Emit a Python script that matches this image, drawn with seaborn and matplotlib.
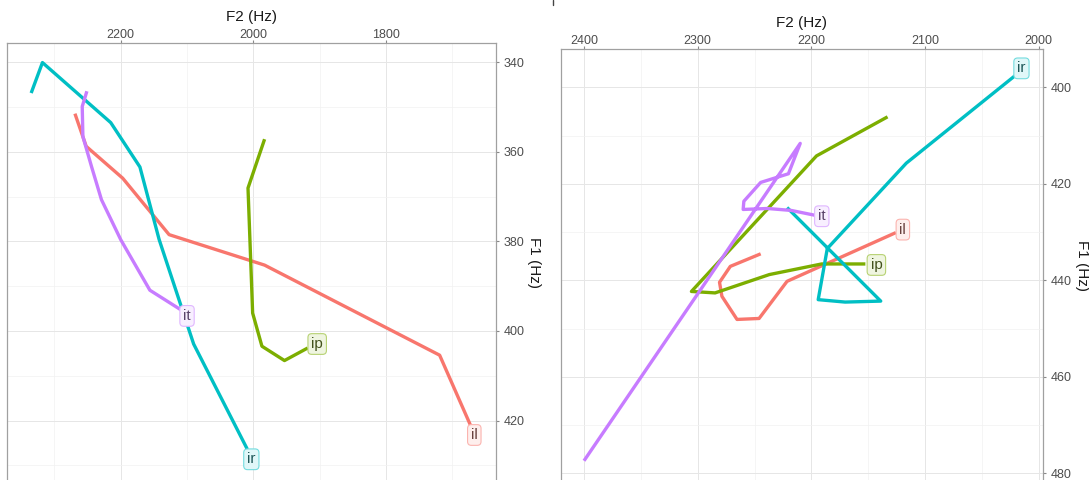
import matplotlib
matplotlib.use("Agg")
import matplotlib.pyplot as plt
from matplotlib.lines import Line2D
from matplotlib.colors import to_rgb
import numpy as np
import pandas as pd
import seaborn as sns

# ---------------- data ----------------
vowels = ["il", "ip", "ir", "it"]
palette = {"il": "#F8766D", "ip": "#7CAE00", "ir": "#00BFC4", "it": "#C77CFF"}

# left panel
left_il_f2 = [2269, 2252, 2197, 2127, 1983, 1719, 1672]
left_il_f1 = [351.5, 358.8, 365.9, 378.5, 385.3, 405.4, 421.2]
left_ip_f2 = [1983, 2008, 2001, 1987, 1953, 1918]
left_ip_f1 = [357.2, 368.1, 396.0, 403.4, 406.6, 403.8]
left_ir_f2 = [2335, 2318, 2215, 2171, 2142, 2090, 2009]
left_ir_f1 = [346.9, 340.1, 353.5, 363.4, 379.6, 402.9, 426.4]
left_it_f2 = [2251, 2258, 2257, 2244, 2229, 2200, 2156, 2109]
left_it_f1 = [346.5, 349.9, 356.6, 363.3, 370.7, 379.6, 390.9, 395.3]

# right panel
right_il_f2 = [2244.6, 2271.3, 2280.8, 2278.7, 2265.4, 2246.0, 2221.4, 2125.7]
right_il_f1 = [434.5, 437.1, 440.4, 443.3, 448.1, 447.9, 440.2, 430.1]
right_ip_f2 = [2133.0, 2195.5, 2305.5, 2284.7, 2237.0, 2191.0, 2152.5]
right_ip_f1 = [406.1, 414.2, 442.3, 442.6, 438.8, 436.6, 436.6]
right_ir_f2 = [2221.4, 2139.0, 2170.3, 2194.0, 2186.0, 2116.5, 2020.5]
right_ir_f1 = [424.9, 444.3, 444.5, 444.0, 433.4, 415.7, 397.5]
right_it_f2 = [2400.0, 2209.8, 2220.2, 2244.6, 2259.4, 2260.0, 2238.6, 2217.8, 2197.0]
right_it_f1 = [477.4, 411.6, 417.9, 419.7, 423.6, 425.3, 425.1, 425.5, 426.5]

left_x_major = [2200, 2000, 1800]
left_x_minor = [2300, 2100, 1900, 1700]
left_y_major = [340, 360, 380, 400, 420]
left_y_minor = [350, 370, 390, 410, 430]
right_x_major = [2400, 2300, 2200, 2100, 2000]
right_x_minor = [2350, 2250, 2150, 2050]
right_y_major = [400, 420, 440, 460, 480]
right_y_minor = [410, 430, 450, 470]


def build(d):
    rows = []
    for v in vowels:
        f2, f1 = d[v]
        for i, (a, b) in enumerate(zip(f2, f1)):
            rows.append({"vowel": v, "F2": a, "F1": b, "order": i})
    return pd.DataFrame(rows)


left_data = {"il": (left_il_f2, left_il_f1), "ip": (left_ip_f2, left_ip_f1),
             "ir": (left_ir_f2, left_ir_f1), "it": (left_it_f2, left_it_f1)}
right_data = {"il": (right_il_f2, right_il_f1), "ip": (right_ip_f2, right_ip_f1),
              "ir": (right_ir_f2, right_ir_f1), "it": (right_it_f2, right_it_f1)}
df_left = build(left_data)
df_right = build(right_data)

# ---------------- style ----------------
sns.set_theme(style="white")
plt.rcParams["font.family"] = ["Liberation Sans", "DejaVu Sans"]

W, H = 1089, 480
fig = plt.figure(figsize=(W / 100, H / 100), dpi=100)


def mix(c, other, t):
    c = np.array(to_rgb(c)); o = np.array(to_rgb(other))
    return tuple(c * t + o * (1 - t))


def setup(ax, xlim, ylim, xmaj, xmin, ymaj, ymin):
    ax.set_xlim(*xlim)
    ax.set_ylim(*ylim)
    ax.set_xticks(xmaj)
    ax.set_xticks(xmin, minor=True)
    ax.set_yticks(ymaj)
    ax.set_yticks(ymin, minor=True)
    ax.grid(which="major", color="#e6e6e6", lw=0.7)
    ax.grid(which="minor", color="#f2f2f2", lw=0.5)
    ax.set_axisbelow(True)
    ax.xaxis.tick_top()
    ax.xaxis.set_label_position("top")
    ax.yaxis.tick_right()
    ax.yaxis.set_label_position("right")
    ax.tick_params(which="major", length=2.4, width=0.8, color="#888888",
                   labelsize=9, labelcolor="#4d4d4d")
    ax.tick_params(axis="x", which="major", pad=-0.5)
    ax.tick_params(axis="y", which="major", pad=3)
    ax.tick_params(which="minor", length=0)
    for s in ["top", "right", "left"]:
        ax.spines[s].set_visible(True)
        ax.spines[s].set_color("#a0a0a0")
        ax.spines[s].set_linewidth(0.9)
    ax.spines["bottom"].set_visible(False)
    ax.set_xlabel("F2 (Hz)", fontsize=11, color="#1a1a1a", labelpad=5.5)
    ax.set_ylabel("F1 (Hz)", fontsize=11, color="#1a1a1a", rotation=270,
                  va="bottom", labelpad=2)


def add_labels(ax, d, offsets):
    for v in vowels:
        f2, f1 = d[v]
        c = palette[v]
        dx, dy = offsets[v]
        ax.annotate(v, xy=(f2[-1], f1[-1]), xytext=(dx * 0.72, -dy * 0.72),
                    textcoords="offset points", ha="center", va="center",
                    fontsize=11, color=mix(c, "#2a2a2a", 0.3),
                    bbox=dict(boxstyle="round,pad=0.22,rounding_size=0.25",
                              fc=mix(c, "white", 0.12), ec=mix(c, "white", 0.55), lw=0.8),
                    zorder=5)


def px_axes(x0, x1, y0, y1):
    return fig.add_axes([x0 / W, 1 - y1 / H, (x1 - x0) / W, (y1 - y0) / H])


# left panel
axL = px_axes(7.3, 496, 43.3, 482)
sns.lineplot(data=df_left, x="F2", y="F1", hue="vowel", hue_order=vowels,
             palette=palette, sort=False, estimator=None, legend=False,
             lw=2.4, ax=axL)
setup(axL, (2371, 1634), (433.7, 335.8), left_x_major, left_x_minor,
      left_y_major, left_y_minor)
add_labels(axL, left_data,
           {"il": (3.5, 9), "ip": (9.5, -4), "ir": (4, 10), "it": (6, 6)})

# right panel
axR = px_axes(560.7, 1043.3, 49.3, 482)
sns.lineplot(data=df_right, x="F2", y="F1", hue="vowel", hue_order=vowels,
             palette=palette, sort=False, estimator=None, legend=False,
             lw=2.4, ax=axR)
setup(axR, (2420.5, 1996), (481.8, 392.1), right_x_major, right_x_minor,
      right_y_major, right_y_minor)
add_labels(axR, right_data,
           {"il": (7, -3), "ip": (11, 1), "ir": (6, -7), "it": (7, 1)})

for ax in (axL, axR):
    for ln in ax.get_lines():
        ln.set_solid_capstyle("butt")

# small separator mark at the top
fig.add_artist(Line2D([553 / W, 553 / W], [1, 1 - 5 / H], color="#444444", lw=1))

fig.savefig("out.png", dpi=100)
